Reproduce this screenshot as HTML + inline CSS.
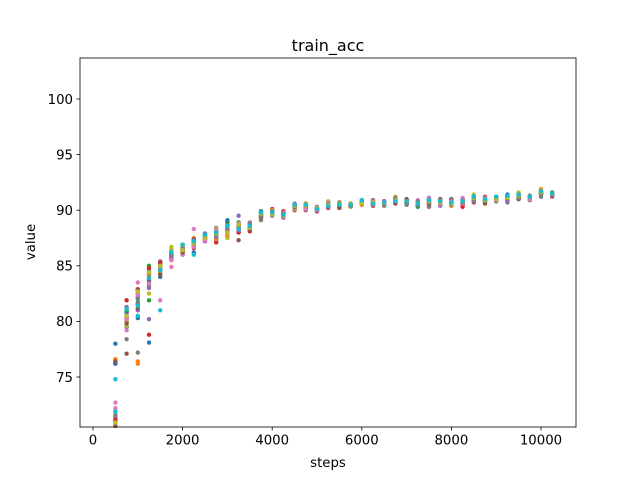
<!DOCTYPE html>
<html><head><meta charset="utf-8"><style>
body{margin:0;background:#fff;}
svg{display:block;font-family:"DejaVu Sans","Liberation Sans",sans-serif;}
</style></head><body>
<svg id="chart" width="640" height="480">
<rect width="640" height="480" fill="#fff"/>
<g id="marks"></g>
<g id="axes"></g>
<text x="328" y="51" font-size="16" text-anchor="middle">train_acc</text>
<text x="328" y="467" font-size="13.3" text-anchor="middle">steps</text>
<text x="35" y="242" font-size="13.3" text-anchor="middle" transform="rotate(-90 35 242)">value</text>
</svg>
<script>
const steps = [500,750,1000,1250,1500,1750,2000,2250,2500,2750,3000,3250,3500,3750,4000,4250,4500,4750,5000,5250,5500,5750,6000,6250,6500,6750,7000,7250,7500,7750,8000,8250,8500,8750,9000,9250,9500,9750,10000,10250];
const seriesBlue = [78.0,79.5,80.3,78.1,84.0,85.9,86.0,86.2,87.6,87.3,88.0,88.0,88.2,89.3,89.6,89.4,90.2,90.1,89.9,90.3,90.3,90.3,90.6,90.5,90.5,90.8,90.6,90.5,90.6,90.6,90.5,90.5,90.9,90.8,90.9,91.0,91.1,91.0,91.4,91.3];
const seriesOrange = [76.5,80.8,76.2,84.2,84.8,85.5,86.7,87.4,87.3,88.0,88.3,88.7,88.9,89.2,89.8,89.7,90.4,90.2,90.1,90.5,90.2,90.5,90.8,90.6,90.7,90.7,90.9,90.4,91.0,90.5,90.9,90.6,91.2,90.7,91.1,91.2,91.3,91.0,91.9,91.5];
const seriesGreen = [71.2,80.0,82.5,85.0,85.2,86.2,86.4,87.2,87.8,87.5,88.5,88.1,88.4,89.6,89.9,89.8,90.5,90.4,89.9,90.6,90.5,90.4,90.6,90.8,90.6,91.1,90.5,90.3,90.9,90.8,90.4,90.9,91.3,91.0,90.8,91.3,91.5,91.2,91.7,91.6];
const seriesRed = [71.4,81.9,82.9,78.8,84.3,85.6,86.6,86.6,87.9,87.1,89.0,88.6,88.1,89.4,90.1,89.5,90.0,90.4,90.1,90.2,90.6,90.5,90.7,90.4,90.8,90.9,90.8,90.7,90.5,90.9,90.8,90.3,90.7,91.2,91.2,90.9,91.0,91.3,91.6,91.4];
const seriesPurple = [76.2,80.7,81.0,83.0,85.4,86.4,86.2,87.1,87.2,88.4,87.6,89.5,88.7,89.8,89.5,89.9,90.6,90.5,90.3,90.7,90.4,90.6,90.9,90.7,90.6,91.0,90.7,90.8,91.1,90.4,91.0,90.8,90.9,90.9,91.1,91.4,91.2,91.3,91.4,91.2];
const seriesBrown = [70.6,77.1,82.8,84.6,85.1,86.0,86.9,86.8,87.4,87.8,88.9,87.3,88.9,89.7,89.7,89.6,90.3,90.0,90.2,90.4,90.7,90.3,90.5,90.9,90.5,90.6,91.0,90.4,90.3,91.0,90.6,91.0,91.0,90.6,90.9,91.1,91.4,91.1,91.5,91.4];
const seriesPink = [72.7,79.2,83.5,84.0,81.9,84.9,86.0,88.3,87.7,87.6,87.9,88.3,88.5,89.9,89.8,89.3,90.1,90.6,90.2,90.5,90.6,90.6,90.9,90.5,90.7,90.8,90.6,90.9,90.8,90.7,90.6,91.1,90.8,91.0,91.0,91.2,91.2,91.1,91.8,91.2];
const seriesGray = [76.3,78.4,77.2,83.2,84.5,85.7,86.3,86.9,87.5,87.9,88.4,88.9,88.6,89.1,89.6,89.8,90.4,90.3,89.9,90.3,90.4,90.5,90.6,90.7,90.4,90.9,90.5,90.6,90.3,90.8,91.0,90.7,91.1,90.8,91.0,90.7,91.0,90.9,91.2,91.5];
const seriesOlive = [71.0,79.6,82.0,82.5,84.4,86.7,86.8,87.5,87.9,88.3,87.5,88.4,88.8,89.5,90.0,89.6,90.1,90.2,90.0,90.8,90.3,90.3,90.8,90.6,90.6,91.2,90.8,90.5,91.0,90.6,90.7,90.9,91.4,90.8,91.1,91.2,91.6,91.0,91.8,91.5];
const seriesCyan = [74.8,80.4,80.5,84.5,81.0,86.1,86.5,86.0,87.4,87.6,88.1,88.6,88.5,89.6,89.7,89.7,90.3,90.3,90.0,90.5,90.4,90.5,90.7,90.6,90.6,90.9,90.7,90.5,90.9,90.7,90.8,90.7,91.1,91.0,91.1,91.3,91.2,91.1,91.5,91.4];
const seriesBlue2 = [76.2,80.9,81.7,83.6,84.7,85.6,86.4,87.0,87.9,88.1,89.1,88.3,88.4,89.9,89.8,89.5,90.5,90.4,90.1,90.6,90.5,90.4,90.7,90.8,90.7,91.0,90.8,90.6,90.8,90.9,90.7,90.8,91.0,91.1,91.2,91.4,91.3,91.2,91.6,91.3];
const seriesOrange2 = [76.6,79.9,76.4,84.0,85.0,86.2,86.2,86.9,87.6,87.4,87.8,88.6,88.3,89.4,89.9,89.9,90.5,90.6,90.2,90.4,90.4,90.6,90.5,90.7,90.5,90.8,90.6,90.7,90.9,90.6,90.4,90.8,91.0,90.9,91.0,90.9,91.3,91.2,91.7,91.4];
const seriesGreen2 = [71.9,81.0,82.1,81.9,84.9,85.8,86.9,86.7,87.4,88.1,88.7,88.9,88.5,89.8,89.6,89.7,90.3,90.3,90.1,90.4,90.6,90.5,90.8,90.6,90.5,90.9,90.6,90.4,90.7,90.6,90.9,90.6,91.2,90.9,91.0,91.2,91.1,91.1,91.5,91.5];
const seriesRed2 = [71.1,80.3,81.5,84.8,85.3,86.1,86.5,87.4,87.5,87.8,88.2,88.0,88.7,89.5,89.7,89.9,90.4,90.2,89.9,90.5,90.3,90.4,90.6,90.5,90.8,90.7,90.7,90.6,90.7,90.8,90.6,90.5,91.1,90.9,91.0,91.1,91.2,91.2,91.5,91.3];
const seriesPurple2 = [71.6,81.3,82.2,80.2,84.6,85.7,86.6,87.3,87.9,87.6,88.3,88.2,88.6,89.7,89.6,89.4,90.3,90.3,90.0,90.3,90.5,90.4,90.6,90.6,90.8,90.8,90.6,90.5,90.6,90.7,90.6,90.9,90.8,91.0,91.0,90.8,91.4,91.0,91.6,91.3];
const seriesBrown2 = [76.4,79.8,81.2,83.8,84.2,86.3,86.2,87.2,87.6,88.0,88.6,88.4,88.2,89.4,89.9,89.6,90.5,90.4,90.1,90.6,90.2,90.6,90.7,90.7,90.6,90.9,90.9,90.6,90.6,90.8,90.9,90.8,91.0,90.8,91.1,91.1,91.0,91.2,91.5,91.3];
const seriesPink2 = [72.2,80.2,82.4,83.4,84.8,85.5,86.5,86.7,87.3,88.2,88.0,88.8,88.9,89.6,89.7,89.8,90.4,90.1,90.0,90.7,90.5,90.5,90.7,90.8,90.6,90.9,90.7,90.7,91.0,90.6,90.8,90.6,91.0,91.1,90.9,91.3,91.3,91.0,91.7,91.4];
const seriesGray2 = [71.5,81.2,81.6,84.3,84.9,86.0,86.6,87.1,87.7,87.7,88.5,88.5,88.8,89.5,89.9,89.7,90.2,90.5,90.2,90.6,90.6,90.4,90.8,90.5,90.7,91.1,90.6,90.8,90.7,90.9,90.5,90.7,90.9,90.9,91.2,91.2,91.1,91.3,91.4,91.4];
const seriesOlive2 = [70.9,80.5,82.7,84.4,85.0,86.3,86.4,87.0,87.5,87.9,88.0,88.7,88.4,89.7,89.6,89.5,90.4,90.4,90.2,90.5,90.6,90.6,90.6,90.7,90.7,90.9,90.8,90.6,90.8,90.7,90.6,90.8,91.1,90.9,91.0,91.1,91.3,91.2,91.6,91.5];
const seriesCyan2 = [71.9,81.1,81.4,83.9,84.6,86.2,86.9,87.2,87.8,88.0,88.6,88.3,88.6,89.8,89.8,89.6,90.5,90.5,90.1,90.4,90.5,90.5,90.9,90.6,90.7,90.8,90.8,90.6,90.9,90.8,90.7,90.8,91.2,91.0,91.2,91.3,91.4,91.2,91.7,91.5];
const xTicks = [0,2000,4000,6000,8000,10000];
const yTicks = [75,80,85,90,95,100];

const NS="http://www.w3.org/2000/svg";
const L=80,R=576,T=58,B=427;
function xs(v){return 93+(v/10000)*448;}
function ys(v){return 377-(v-75)*11.12;}
const all=[seriesBlue,seriesOrange,seriesGreen,seriesRed,seriesPurple,seriesBrown,seriesPink,seriesGray,seriesOlive,seriesCyan,
  seriesBlue2,seriesOrange2,seriesGreen2,seriesRed2,seriesPurple2,seriesBrown2,seriesPink2,seriesGray2,seriesOlive2,seriesCyan2];
const cols=["#1f77b4","#ff7f0e","#2ca02c","#d62728","#9467bd","#8c564b","#e377c2","#7f7f7f","#bcbd22","#17becf"];
const names=["blue","orange","green","red","purple","brown","pink","gray","olive","cyan"];
const marks=document.getElementById('marks');
all.forEach((s,i)=>{
  s.forEach((v,j)=>{
    const c=document.createElementNS(NS,'circle');
    c.setAttribute('cx',xs(steps[j]));c.setAttribute('cy',ys(v));c.setAttribute('r',2.2);
    c.setAttribute('fill',cols[i%10]);
    
    
    marks.appendChild(c);
  });
});
const axes=document.getElementById('axes');
const frame=document.createElementNS(NS,'rect');
frame.setAttribute('x',L);frame.setAttribute('y',T);frame.setAttribute('width',R-L);frame.setAttribute('height',B-T);
frame.setAttribute('fill','none');frame.setAttribute('stroke','#000');frame.setAttribute('stroke-width','0.8');


axes.appendChild(frame);
xTicks.forEach(t=>{
  const x=xs(t);
  const l=document.createElementNS(NS,'line');
  l.setAttribute('x1',x);l.setAttribute('x2',x);l.setAttribute('y1',B);l.setAttribute('y2',B+3.5);l.setAttribute('stroke','#000');l.setAttribute('stroke-width','0.8');
  
  
  axes.appendChild(l);
  const tx=document.createElementNS(NS,'text');
  tx.setAttribute('x',x);tx.setAttribute('y',B+17.5);tx.setAttribute('font-size','13.3');tx.setAttribute('text-anchor','middle');
  tx.textContent=t;
  
  
  axes.appendChild(tx);
});
yTicks.forEach(t=>{
  const y=ys(t);
  const l=document.createElementNS(NS,'line');
  l.setAttribute('x1',L-3.5);l.setAttribute('x2',L);l.setAttribute('y1',y);l.setAttribute('y2',y);l.setAttribute('stroke','#000');l.setAttribute('stroke-width','0.8');
  
  
  axes.appendChild(l);
  const tx=document.createElementNS(NS,'text');
  tx.setAttribute('x',L-7);tx.setAttribute('y',y+4.8);tx.setAttribute('font-size','13.3');tx.setAttribute('text-anchor','end');
  tx.textContent=t;
  
  
  axes.appendChild(tx);
});
</script>
</body></html>
